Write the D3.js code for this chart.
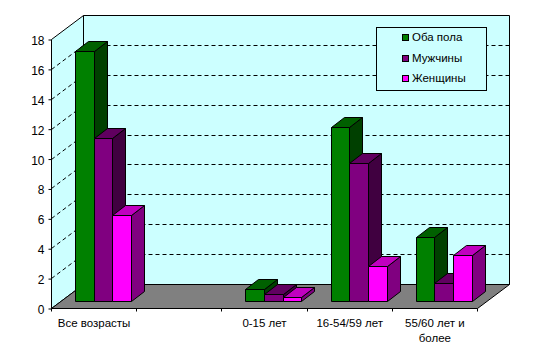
<!DOCTYPE html>
<html>
<head>
<meta charset="utf-8">
<script src="https://cdn.jsdelivr.net/npm/d3@7/dist/d3.min.js"></script>
<style>
html,body{margin:0;padding:0;background:#fff;}
svg{display:block;}
text{font-family:"Liberation Sans",Arial,sans-serif;font-size:11.5px;fill:#000;}
</style>
</head>
<body>
<svg id="c" width="540" height="360"></svg>
<script>
const categories = ["Все возрасты", "", "0-15 лет", "16-54/59 лет", "55/60 лет и более"];
const seriesNames = ["Оба пола", "Мужчины", "Женщины"];
const bothSexes = [16.73, null, 0.8, 11.65, 4.28];
const men = [10.9, null, 0.47, 9.24, 1.2];
const women = [5.76, null, 0.27, 2.34, 3.08];
const yTicks = [0, 2, 4, 6, 8, 10, 12, 14, 16, 18];
const frontColors = ["#008000", "#800080", "#ff00ff"];
const topColors = ["#006000", "#600060", "#c000c0"];
const sideColors = ["#004000", "#400040", "#800080"];

const svg = d3.select("#c");
const x = d3.scaleBand().domain(categories.map((d, i) => i)).range([51.5, 477.5]).paddingInner(0).paddingOuter(0);
const y = d3.scaleLinear().domain([0, 18]).range([308.5, 39.5]);
const depthX = 32, depthY = -24;
const barBaseShift = -7, barDepthX = 13, barDepthY = -10;
const inner = d3.scaleBand().domain([0, 1, 2]).range([24, 80]);
const allSeries = [bothSexes, men, women];
const poly = (pts, fill, sw = 1) => svg.append("polygon")
  .attr("points", pts.map(p => p.map(v => Math.round(v - 0.5) + 0.5).join(",")).join(" "))
  .attr("fill", fill).attr("stroke", "#000").attr("stroke-width", sw);

const x0 = x.range()[0], x1 = x.range()[1], y0 = y(0), yT = y(18);

// walls + floor
poly([[x0, y0], [x0 + depthX, y0 + depthY], [x0 + depthX, yT + depthY], [x0, yT]], "#ccffff");
poly([[x0 + depthX, y0 + depthY], [x1 + depthX, y0 + depthY], [x1 + depthX, yT + depthY], [x0 + depthX, yT + depthY]], "#ccffff");
poly([[x0, y0], [x1, y0], [x1 + depthX, y0 + depthY], [x0 + depthX, y0 + depthY]], "#808080");

// gridlines
yTicks.filter(t => t > 0 && t < 18).forEach(t => {
  const yy = Math.round(y(t) - 0.5) + 0.5;
  svg.append("path")
    .attr("d", `M${x0},${yy}L${x0 + depthX},${yy + depthY}L${x1 + depthX},${yy + depthY}`)
    .attr("fill", "none").attr("stroke", "#000").attr("stroke-dasharray", "4,3");
});

// bars
categories.forEach((c, i) => {
  allSeries.forEach((vals, s) => {
    const v = vals[i];
    if (v === null) return;
    const l = x(i) + inner(s), r = l + inner.bandwidth();
    const b = y0 + barBaseShift, t = y(v) + barBaseShift;
    const dx = barDepthX, dy = barDepthY;
    poly([[r, b], [r + dx, b + dy], [r + dx, t + dy], [r, t]], sideColors[s]);
    poly([[l, t], [r, t], [r + dx, t + dy], [l + dx, t + dy]], topColors[s]);
    poly([[l, b], [r, b], [r, t], [l, t]], frontColors[s]);
  });
});

// y axis
const yAxis = d3.axisLeft(y).tickValues(yTicks).tickSize(3).tickPadding(4).tickFormat(d3.format("d"));
const ya = svg.append("g").attr("transform", `translate(${x0},0)`).call(yAxis);
ya.select(".domain").remove();
ya.selectAll("text").attr("dy", "0.42em").style("font-size", "12px").style("font-family", '"Liberation Sans",Arial,sans-serif');

// x axis ticks at band edges
const edges = categories.map((d, i) => x(i)).concat([x1]);
edges.forEach(e => {
  const ex = Math.round(e - 0.5) + 0.5;
  svg.append("line").attr("x1", ex).attr("x2", ex).attr("y1", y0).attr("y2", y0 + 3).attr("stroke", "#000");
});
const splitLabel = c => c === "55/60 лет и более" ? ["55/60 лет и", "более"] : [c];
categories.forEach((c, i) => {
  splitLabel(c).forEach((line, k) => {
    svg.append("text").attr("x", x(i) + x.bandwidth() / 2).attr("y", 327 + k * 15)
      .attr("text-anchor", "middle").text(line);
  });
});

// legend
svg.append("rect").attr("x", 376.5).attr("y", 27.5).attr("width", 110).attr("height", 63)
  .attr("fill", "#ccffff").attr("stroke", "#000");
const legendY = d3.scalePoint().domain(seriesNames).range([37.5, 78.5]);
seriesNames.forEach((n, s) => {
  svg.append("rect").attr("x", 402.5).attr("y", Math.round(legendY(n) - 3.5) + 0.5).attr("width", 6).attr("height", 6)
    .attr("fill", frontColors[s]).attr("stroke", "#000");
  svg.append("text").attr("x", 412).attr("y", legendY(n) + 3.5).text(n);
});
</script>
</body>
</html>
